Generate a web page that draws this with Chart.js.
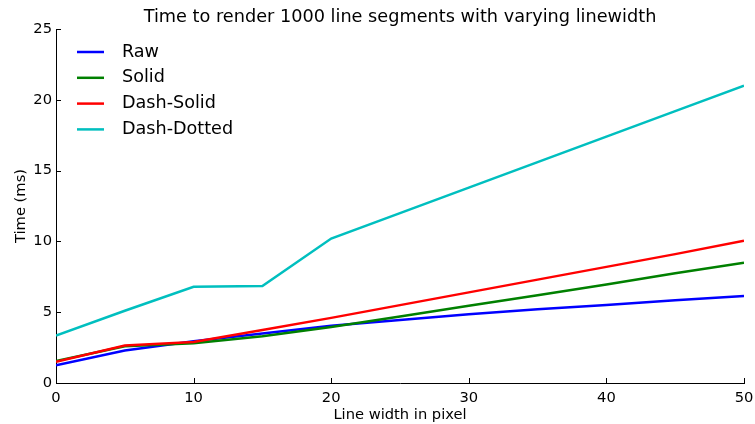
<!DOCTYPE html>
<html>
<head>
<meta charset="utf-8">
<script src="https://cdn.jsdelivr.net/npm/chart.js@4"></script>
<style>
    html, body { margin: 0; padding: 0; background: #fff; }
    #wrap { width: 755px; height: 424px; }
</style>
</head>
<body>
<div id="wrap"><canvas id="chart"></canvas></div>
<script>
    // Line width in pixel
    const widths = [0, 5, 10, 15, 20, 25, 30, 35, 40, 45, 50];

    // Render time (ms) per style
    const raw = [1.25, 2.3, 2.95, 3.5, 4.05, 4.45, 4.85, 5.2, 5.5, 5.85, 6.15];
    const solid = [1.55, 2.6, 2.8, 3.3, 3.95, 4.7, 5.45, 6.2, 6.95, 7.75, 8.5];
    const dashSolid = [1.5, 2.65, 2.9, 3.75, 4.6, 5.5, 6.4, 7.3, 8.2, 9.1, 10.05];
    const dashDotted = [3.35, 5.1, 6.8, 6.85, 10.2, 12.0, 13.8, 15.6, 17.4, 19.2, 21.0];

    const xTicks = [0, 10, 20, 30, 40, 50];
    const yTicks = [0, 5, 10, 15, 20, 25];

    const FONT = '"DejaVu Sans", sans-serif';

    // later series sit on top, as in matplotlib
    function series(label, values, color, order) {
        return {
            label: label,
            data: widths.map((w, i) => ({ x: w, y: values[i] })),
            borderColor: color,
            backgroundColor: color,
            borderWidth: 2.5,
            pointRadius: 0,
            tension: 0,
            fill: false,
            order: order
        };
    }

    // Inward ticks, title and in-plot legend, drawn like matplotlib classic
    const decorations = {
        id: 'decorations',
        afterDraw: function(chart) {
            const ctx = chart.ctx;
            const area = chart.chartArea;
            const xs = chart.scales.x;
            const ys = chart.scales.y;

            ctx.save();
            ctx.strokeStyle = '#000';
            ctx.lineWidth = 1;
            ctx.beginPath();
            xTicks.forEach(v => {
                const px = Math.round(xs.getPixelForValue(v)) + 0.5;
                ctx.moveTo(px, area.bottom);
                ctx.lineTo(px, area.bottom - 5);
            });
            yTicks.forEach(v => {
                const py = Math.round(ys.getPixelForValue(v)) + 0.5;
                ctx.moveTo(area.left, py);
                ctx.lineTo(area.left + 5, py);
            });
            ctx.stroke();

            // title
            ctx.fillStyle = '#000';
            ctx.font = '17.7px ' + FONT;
            ctx.textAlign = 'center';
            ctx.textBaseline = 'middle';
            ctx.fillText('Time to render 1000 line segments with varying linewidth',
                (area.left + area.right) / 2, 17);

            // legend
            ctx.font = '17.6px ' + FONT;
            ctx.textAlign = 'left';
            chart.data.datasets.forEach((ds, i) => {
                const y = 52 + i * 25.8;
                ctx.strokeStyle = ds.borderColor;
                ctx.lineWidth = 2.5;
                ctx.beginPath();
                ctx.moveTo(77, y);
                ctx.lineTo(104, y);
                ctx.stroke();
                ctx.fillStyle = '#000';
                ctx.fillText(ds.label, 122, y);
            });
            ctx.restore();
        }
    };

    new Chart(document.getElementById('chart'), {
        type: 'line',
        data: {
            datasets: [
                series('Raw', raw, '#0000ff', 3),
                series('Solid', solid, '#008000', 2),
                series('Dash-Solid', dashSolid, '#ff0000', 1),
                series('Dash-Dotted', dashDotted, '#00bfbf', 0)
            ]
        },
        options: {
            responsive: true,
            maintainAspectRatio: false,
            animation: false,
            layout: { padding: { top: 29, right: 11, left: 0, bottom: 0 } },
            plugins: {
                legend: { display: false },
                title: { display: false },
                tooltip: { enabled: false }
            },
            scales: {
                x: {
                    type: 'linear',
                    min: 0,
                    max: 50,
                    afterFit: scale => {
                        scale.height = 41;
                        scale.paddingLeft = 0;
                        scale.paddingRight = 0;
                    },
                    afterBuildTicks: scale => { scale.ticks = xTicks.map(v => ({ value: v })); },
                    grid: { display: true, drawOnChartArea: false, drawTicks: false },
                    border: { display: true, color: '#000', width: 1 },
                    ticks: { color: '#000', padding: 6, font: { family: FONT, size: 14.7 } },
                    title: {
                        display: true,
                        text: 'Line width in pixel',
                        color: '#000',
                        font: { family: FONT, size: 14.7 },
                        padding: { top: 1, bottom: 0 }
                    }
                },
                y: {
                    min: 0,
                    max: 25,
                    afterFit: scale => {
                        scale.width = 56;
                        scale.paddingTop = 0;
                        scale.paddingBottom = 0;
                    },
                    afterBuildTicks: scale => { scale.ticks = yTicks.map(v => ({ value: v })); },
                    grid: { display: true, drawOnChartArea: false, drawTicks: false },
                    border: { display: true, color: '#000', width: 1 },
                    ticks: { color: '#000', padding: 4, font: { family: FONT, size: 14.7 } },
                    title: {
                        display: true,
                        text: 'Time (ms)',
                        color: '#000',
                        font: { family: FONT, size: 14.7 },
                        padding: { top: 12, bottom: 0 }
                    }
                }
            }
        },
        plugins: [decorations]
    });
</script>
</body>
</html>
